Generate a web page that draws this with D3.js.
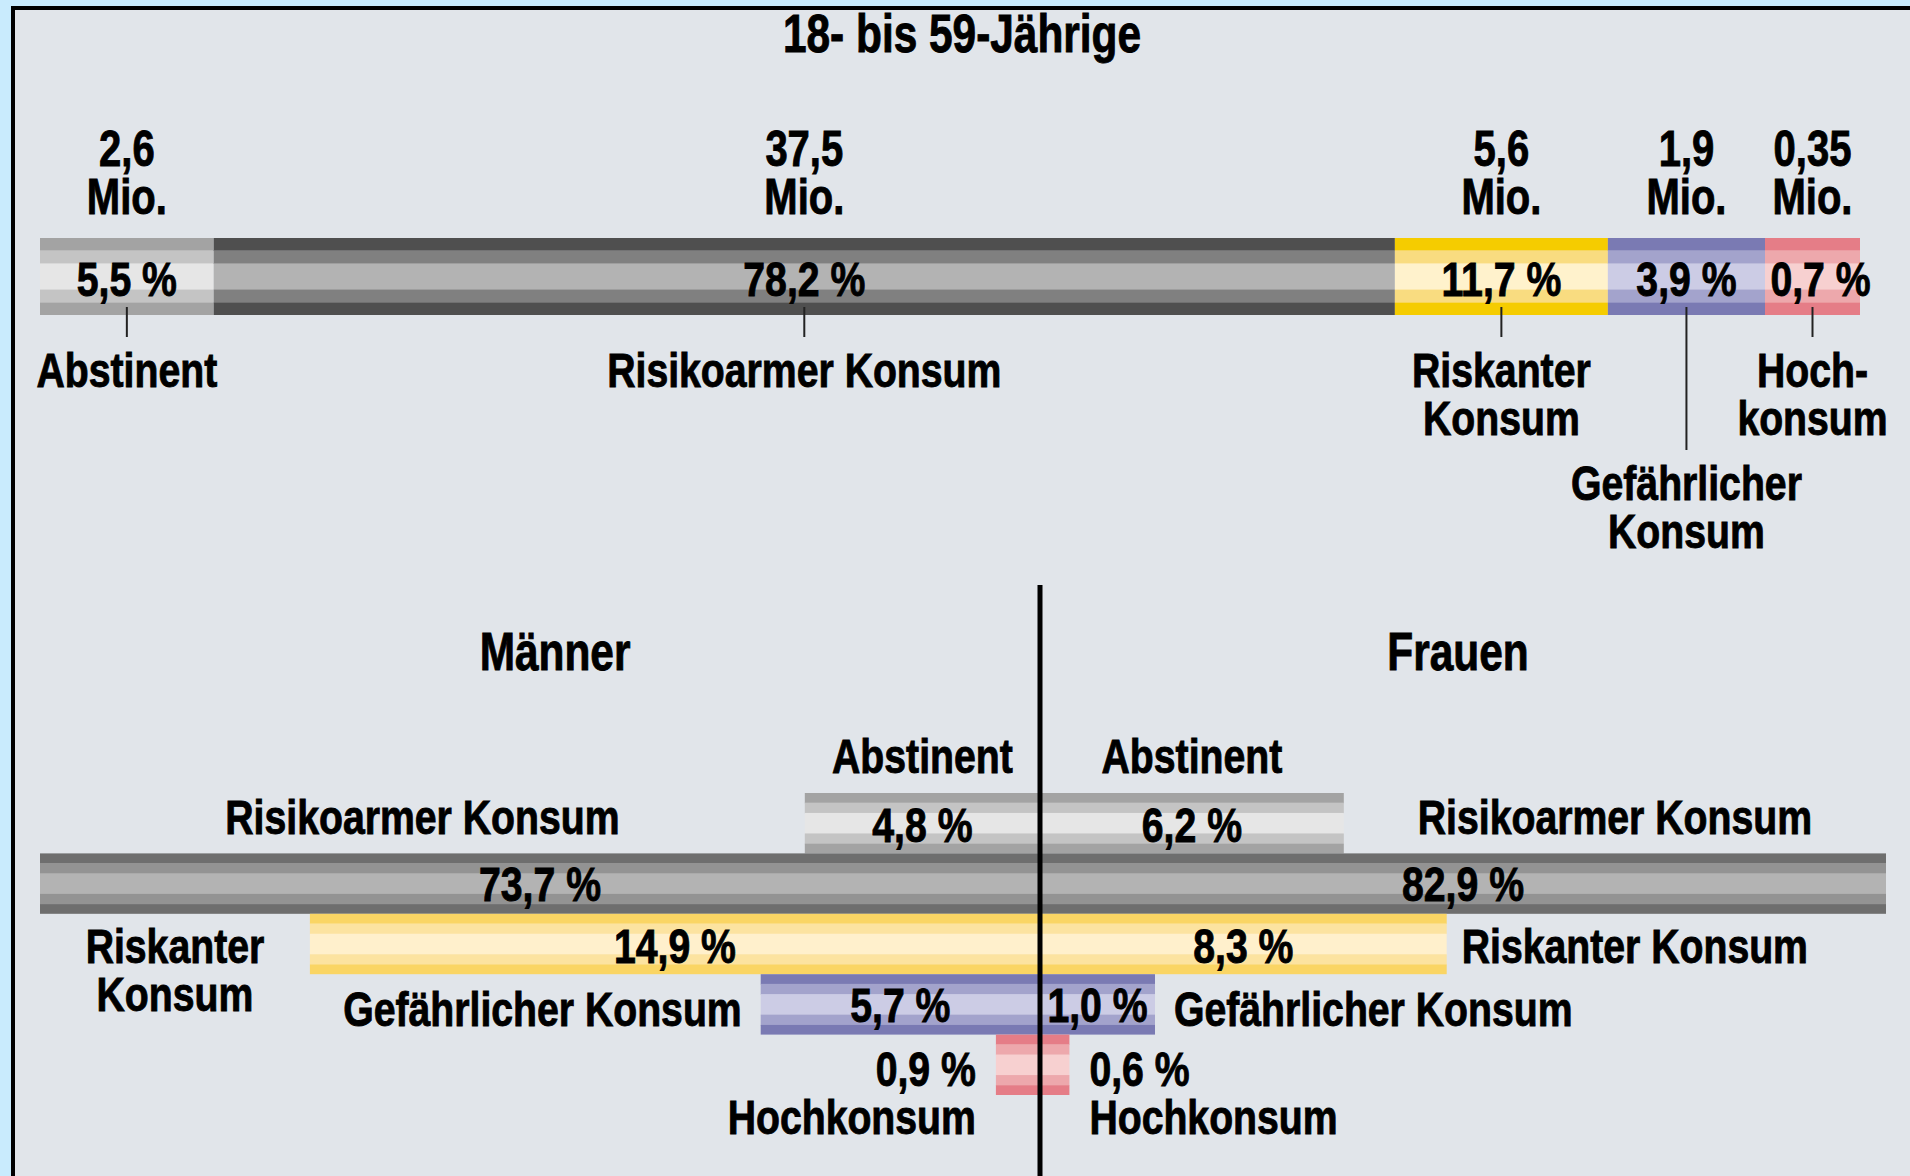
<!DOCTYPE html>
<html>
<head>
<meta charset="utf-8">
<script src="https://cdn.jsdelivr.net/npm/d3@7"></script>
<style>
  html, body { margin: 0; padding: 0; background: #c9ebfd; }
  svg { display: block; }
  text {
    font-family: "Liberation Sans", Arial, sans-serif;
    font-weight: bold;
    fill: #000;
    stroke: #000;
    stroke-width: 0.9px;
  }
</style>
</head>
<body>
<svg id="canvas" width="1910" height="1176"></svg>
<script>
// data
let categories = ['Abstinent', 'Risikoarmer Konsum', 'Riskanter Konsum', 'Gefährlicher Konsum', 'Hochkonsum'];
let totalShare = [5.5, 78.2, 11.7, 3.9, 0.7];
let totalMio = ['2,6', '37,5', '5,6', '1,9', '0,35'];
let topNames = [['Abstinent'], ['Risikoarmer Konsum'], ['Riskanter', 'Konsum'], ['Gefährlicher', 'Konsum'], ['Hoch-', 'konsum']];
let menShare = [4.8, 73.7, 14.9, 5.7, 0.9];
let womenShare = [6.2, 82.9, 8.3, 1.0, 0.6];

let topColors = [
    ['#a3a3a3', '#c4c4c4', '#e6e6e6'],
    ['#4f4f4f', '#808080', '#b3b3b3'],
    ['#f5cc00', '#f9dc80', '#fff2cc'],
    ['#7a7ab3', '#a3a3cc', '#cccce5'],
    ['#e57d87', '#eda8ac', '#f7d0d0']
];
let bottomColors = [
    ['#a3a3a3', '#c4c4c4', '#e6e6e6'],
    ['#6e6e6e', '#939393', '#b3b3b3'],
    ['#fad564', '#fce3a0', '#fff0cc'],
    ['#7a7ab3', '#a3a3cc', '#cccce5'],
    ['#e57d87', '#eda8ac', '#f7d0d0']
];

let pct = (v) => v.toFixed(1).replace('.', ',') + ' %';

let canvas = d3.select('#canvas');

// frame
canvas.append('rect').attr('x', 11).attr('y', 6).attr('width', 1899).attr('height', 1170).attr('fill', '#000');
canvas.append('rect').attr('x', 15).attr('y', 10).attr('width', 1895).attr('height', 1166).attr('fill', '#e1e5ea');

let stripeFrac = [0.16, 0.17, 0.34, 0.17, 0.16];
let stripeIdx = [0, 1, 2, 1, 0];

let drawStriped = (x, y, w, h, pal) => {
    let yy = y;
    stripeFrac.forEach((f, j) => {
        canvas.append('rect')
            .attr('x', x)
            .attr('y', yy)
            .attr('width', w)
            .attr('height', h * f + (j < 4 ? 0.6 : 0))
            .attr('fill', pal[stripeIdx[j]]);
        yy += h * f;
    });
}

// condensed look: bold sans squeezed horizontally, lines as tspans
let label = (x, y, lines, anchor, size) => {
    let t = canvas.append('text')
        .attr('transform', `translate(${x},${y}) scale(0.8,1)`)
        .attr('text-anchor', anchor)
        .style('font-size', size + 'px');
    lines.forEach((s, i) => {
        t.append('tspan')
            .attr('x', 0)
            .attr('dy', i === 0 ? 0 : 48)
            .text(s);
    });
}

// title
label(962, 52, ['18- bis 59-Jährige'], 'middle', 53);

// top bar: small shares on a symlog scale, the dominant share fills the rest
let topLeft = 40, topRight = 1860, topY = 238, topH = 77;
let topWidth = d3.scaleSymlog().constant(1).domain([0.7, 11.7]).range([95, 213]);
let big = d3.maxIndex(totalShare);
let widths = totalShare.map((v, i) => i === big ? 0 : topWidth(v));
widths[big] = (topRight - topLeft) - d3.sum(widths);
let starts = [0, ...d3.cumsum(widths)].map((d) => topLeft + d);

totalShare.forEach((v, i) => {
    let x = starts[i];
    let w = widths[i];
    let c = x + w / 2;
    drawStriped(x, topY, w, topH, topColors[i]);
    label(c, 166, [totalMio[i], 'Mio.'], 'middle', 50);
    label(c + (i === 4 ? 8 : 0), topY + topH / 2 + 19, [pct(v)], 'middle', 49);
    let far = i === 3;
    canvas.append('line')
        .attr('x1', c).attr('x2', c)
        .attr('y1', topY + topH - 8)
        .attr('y2', far ? 450 : 337)
        .attr('stroke', '#222')
        .attr('stroke-width', 2);
    label(c, far ? 500 : 387, topNames[i], 'middle', 49);
});

// bottom: Männer / Frauen
let cx = 1040, leftEdge = 40, rightEdge = 1886;
let band = d3.scaleBand().domain(categories).range([793, 1095]);
let xw = d3.scaleLinear().domain([0, 10]).range([0, 490]);
let minInner = 115;

label((leftEdge + cx) / 2 + 15, 670, ['Männer'], 'middle', 53);
label((cx + rightEdge) / 2 - 5, 670, ['Frauen'], 'middle', 53);

let sides = [
    { values: menShare, dir: -1, maxW: cx - leftEdge, edge: leftEdge },
    { values: womenShare, dir: 1, maxW: rightEdge - cx, edge: rightEdge }
];

sides.forEach((s) => {
    let ends = s.values.map((v, i) => {
        let w = Math.min(xw(v), s.maxW);
        if (i < 4) w = Math.max(w, minInner);
        return cx + s.dir * w;
    });
    let near = s.dir < 0 ? 'end' : 'start';

    s.values.forEach((v, i) => {
        let y = band(categories[i]);
        let h = band.bandwidth();
        let mid = y + h / 2;
        let x0 = Math.min(cx, ends[i]);
        let w = Math.abs(ends[i] - cx);
        drawStriped(x0, y, w, h, bottomColors[i]);
        let bc = (cx + ends[i]) / 2;

        if (i === 0) {
            label(bc, y - 20, [categories[i]], 'middle', 49);
            label(bc, mid + 19, [pct(v)], 'middle', 49);
        } else if (i === 1) {
            label(bc, mid + 17, [pct(v)], 'middle', 49);
            let free = (s.edge + ends[0]) / 2;
            let m0 = band(categories[0]) + h / 2;
            label(free, m0 + 11, [categories[i]], 'middle', 49);
        } else if (i === 2) {
            label(bc, mid + 19, [pct(v)], 'middle', 49);
            if (s.dir < 0) {
                label((s.edge + ends[i]) / 2, mid + 19, ['Riskanter', 'Konsum'], 'middle', 49);
            } else {
                label(ends[i] + 15, mid + 19, [categories[i]], 'start', 49);
            }
        } else if (i === 3) {
            label(bc, mid + 18, [pct(v)], 'middle', 49);
            label(ends[i] + s.dir * 19, mid + 22, [categories[i]], near, 49);
        } else {
            label(ends[i] + s.dir * 20, mid + 21, [pct(v), categories[i]], near, 49);
        }
    });
});

// divider
canvas.append('line')
    .attr('x1', cx).attr('x2', cx)
    .attr('y1', 585).attr('y2', 1176)
    .attr('stroke', '#000')
    .attr('stroke-width', 5);
</script>
</body>
</html>
